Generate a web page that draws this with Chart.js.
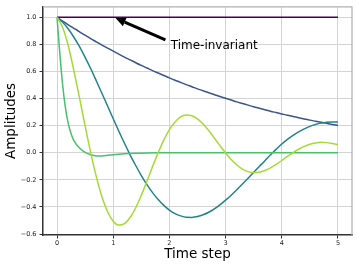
<!DOCTYPE html>
<html>
<head>
<meta charset="utf-8">
<script src="https://cdn.jsdelivr.net/npm/chart.js@4.4.0/dist/chart.umd.min.js"></script>
<style>
  html, body { margin: 0; padding: 0; background: #fff; }
  #wrap { width: 357px; height: 268px; }
</style>
</head>
<body>
<div id="wrap"><canvas id="myChart" width="357" height="268"></canvas></div>
<script>
// values
const timeSteps = [0, 0.1, 0.2, 0.3, 0.4, 0.5, 0.6, 0.7, 0.8, 0.9,
  1.0, 1.1, 1.2, 1.3, 1.4, 1.5, 1.6, 1.7, 1.8, 1.9,
  2.0, 2.1, 2.2, 2.3, 2.4, 2.5, 2.6, 2.7, 2.8, 2.9,
  3.0, 3.1, 3.2, 3.3, 3.4, 3.5, 3.6, 3.7, 3.8, 3.9,
  4.0, 4.1, 4.2, 4.3, 4.4, 4.5, 4.6, 4.7, 4.8, 4.9, 5.0];

const invariantTimes = [0, 5];
const invariantValues = [1, 1];

const slowDecay = [1, 0.972, 0.945, 0.919, 0.893, 0.868, 0.843, 0.819, 0.795, 0.772,
  0.750, 0.728, 0.706, 0.686, 0.665, 0.645, 0.626, 0.607, 0.589, 0.571,
  0.553, 0.536, 0.520, 0.503, 0.488, 0.472, 0.458, 0.443, 0.429, 0.415,
  0.402, 0.389, 0.376, 0.364, 0.352, 0.340, 0.329, 0.318, 0.307, 0.297,
  0.287, 0.277, 0.268, 0.259, 0.250, 0.241, 0.233, 0.225, 0.217, 0.209, 0.202];

const slowOscillation = [1, 0.963, 0.914, 0.853, 0.783, 0.704, 0.620, 0.530, 0.438, 0.345,
  0.251, 0.159, 0.070, -0.015, -0.094, -0.168, -0.235, -0.294, -0.345, -0.388,
  -0.423, -0.449, -0.466, -0.476, -0.477, -0.471, -0.458, -0.439, -0.414, -0.384,
  -0.350, -0.313, -0.273, -0.231, -0.188, -0.144, -0.101, -0.059, -0.014, 0.025,
  0.065, 0.099, 0.129, 0.155, 0.177, 0.195, 0.209, 0.219, 0.225, 0.228, 0.228];

const fastOscillation = [1, 0.925, 0.790, 0.605, 0.405, 0.197, -0.001, -0.178, -0.326, -0.435,
  -0.505, -0.534, -0.523, -0.478, -0.406, -0.314, -0.210, -0.102, 0.001, 0.094,
  0.171, 0.228, 0.265, 0.279, 0.274, 0.250, 0.212, 0.164, 0.109, 0.053,
  -0.001, -0.050, -0.090, -0.120, -0.139, -0.146, -0.143, -0.131, -0.111, -0.085,
  -0.057, -0.027, 0.001, 0.026, 0.047, 0.063, 0.073, 0.077, 0.075, 0.068, 0.060];

// the fast decay drops so quickly that it gets its own finer time grid
const fastDecayTimes = [0, 0.05, 0.1, 0.15, 0.2, 0.25, 0.3, 0.4, 0.5, 0.6, 0.7, 0.8, 0.9,
  1.0, 1.2, 1.4, 1.6, 1.8, 2.0, 2.5, 3.0, 3.5, 4.0, 4.5, 5.0];
const fastDecay = [1, 0.73, 0.50, 0.33, 0.215, 0.14, 0.09, 0.035, 0.003, -0.015, -0.023, -0.023, -0.019,
  -0.014, -0.007, -0.003, -0.001, 0, 0, 0, 0, 0, 0, 0, 0];

const xTicks = [0, 1, 2, 3, 4, 5];
const yTicks = [-0.6, -0.4, -0.2, 0.0, 0.2, 0.4, 0.6, 0.8, 1.0];

const annotationText = 'Time-invariant';
const arrowTip = [1, 1];
const labelAt = [2, 0.8];

const tickFont = { family: 'DejaVu Sans', size: 6.5 };
const titleFont = { family: 'DejaVu Sans', size: 13.5 };

function toPoints(times, values) {
  return values.map((v, i) => ({ x: times[i], y: v }));
}

// light frame on top and right, like the matplotlib axes box
const framePlugin = {
  id: 'frame',
  beforeDatasetsDraw(chart) {
    const { ctx, chartArea: a } = chart;
    ctx.save();
    ctx.strokeStyle = '#b0b0b0';
    ctx.lineWidth = 1.2;
    ctx.beginPath();
    ctx.moveTo(a.left, a.top);
    ctx.lineTo(a.right, a.top);
    ctx.lineTo(a.right, a.bottom);
    ctx.stroke();
    ctx.restore();
  }
};

// arrow + text annotation
const annotationPlugin = {
  id: 'annotation',
  afterDatasetsDraw(chart) {
    const { ctx, scales: { x, y } } = chart;
    const tipX = x.getPixelForValue(arrowTip[0]) + 2.3;
    const tipY = y.getPixelForValue(arrowTip[1]) + 0.7;
    const tx = x.getPixelForValue(labelAt[0]);
    const ty = y.getPixelForValue(labelAt[1]);
    const tailX = tx - 4, tailY = ty - 4.5;
    const ang = Math.atan2(tipY - tailY, tipX - tailX);
    const headLen = 10, headHalf = 4.5;
    const baseX = tipX - headLen * Math.cos(ang), baseY = tipY - headLen * Math.sin(ang);
    ctx.save();
    ctx.strokeStyle = '#000';
    ctx.fillStyle = '#000';
    ctx.lineWidth = 3;
    ctx.beginPath();
    ctx.moveTo(tailX, tailY);
    ctx.lineTo(baseX, baseY);
    ctx.stroke();
    ctx.beginPath();
    ctx.moveTo(tipX, tipY);
    ctx.lineTo(baseX + headHalf * Math.sin(ang), baseY - headHalf * Math.cos(ang));
    ctx.lineTo(baseX - headHalf * Math.sin(ang), baseY + headHalf * Math.cos(ang));
    ctx.closePath();
    ctx.fill();
    ctx.font = '12px "DejaVu Sans"';
    ctx.textAlign = 'left';
    ctx.textBaseline = 'middle';
    ctx.fillText(annotationText, tx + 1.3, ty + 1);
    ctx.restore();
  }
};

const ctx = document.getElementById('myChart').getContext('2d');
new Chart(ctx, {
  type: 'line',
  data: {
    // first dataset is drawn on top in Chart.js, so list them top-down
    datasets: [
      { data: toPoints(timeSteps, fastOscillation), borderColor: '#a5da36' },
      { data: toPoints(fastDecayTimes, fastDecay), borderColor: '#48c16e' },
      { data: toPoints(timeSteps, slowOscillation), borderColor: '#23838d' },
      { data: toPoints(timeSteps, slowDecay), borderColor: '#3b558b' },
      { data: toPoints(invariantTimes, invariantValues), borderColor: '#440154' }
    ]
  },
  options: {
    responsive: false,
    animation: false,
    layout: { padding: { top: 5, right: 5, left: 0, bottom: 0 } },
    plugins: { legend: { display: false }, tooltip: { enabled: false } },
    elements: {
      point: { radius: 0 },
      line: { borderWidth: 1.5, cubicInterpolationMode: 'monotone', fill: false }
    },
    scales: {
      x: {
        type: 'linear',
        min: -0.25,
        max: 5.25,
        afterBuildTicks: s => { s.ticks = xTicks.map(v => ({ value: v })); },
        afterFit: s => { s.height = 33; },
        ticks: { font: tickFont, color: '#222', padding: 1, maxRotation: 0, callback: v => String(v) },
        grid: { color: '#d4d4d4', lineWidth: 1, tickColor: '#333', tickLength: 3.5 },
        border: { color: '#333', width: 1.5 },
        title: { display: true, text: 'Time step', font: titleFont, color: '#000', padding: { top: 0, bottom: 5 } }
      },
      y: {
        min: -0.607,
        max: 1.077,
        afterBuildTicks: s => { s.ticks = yTicks.map(v => ({ value: v })); },
        afterFit: s => { s.width = 43; },
        ticks: { font: tickFont, color: '#222', padding: 3, callback: v => v.toFixed(1).replace('-', '\u2212') },
        grid: { color: '#d4d4d4', lineWidth: 1, tickColor: '#333', tickLength: 3.5 },
        border: { color: '#333', width: 1.5 },
        title: { display: true, text: 'Amplitudes', font: titleFont, color: '#000', padding: { top: 3, bottom: 0 } }
      }
    }
  },
  plugins: [framePlugin, annotationPlugin]
});
</script>
</body>
</html>
